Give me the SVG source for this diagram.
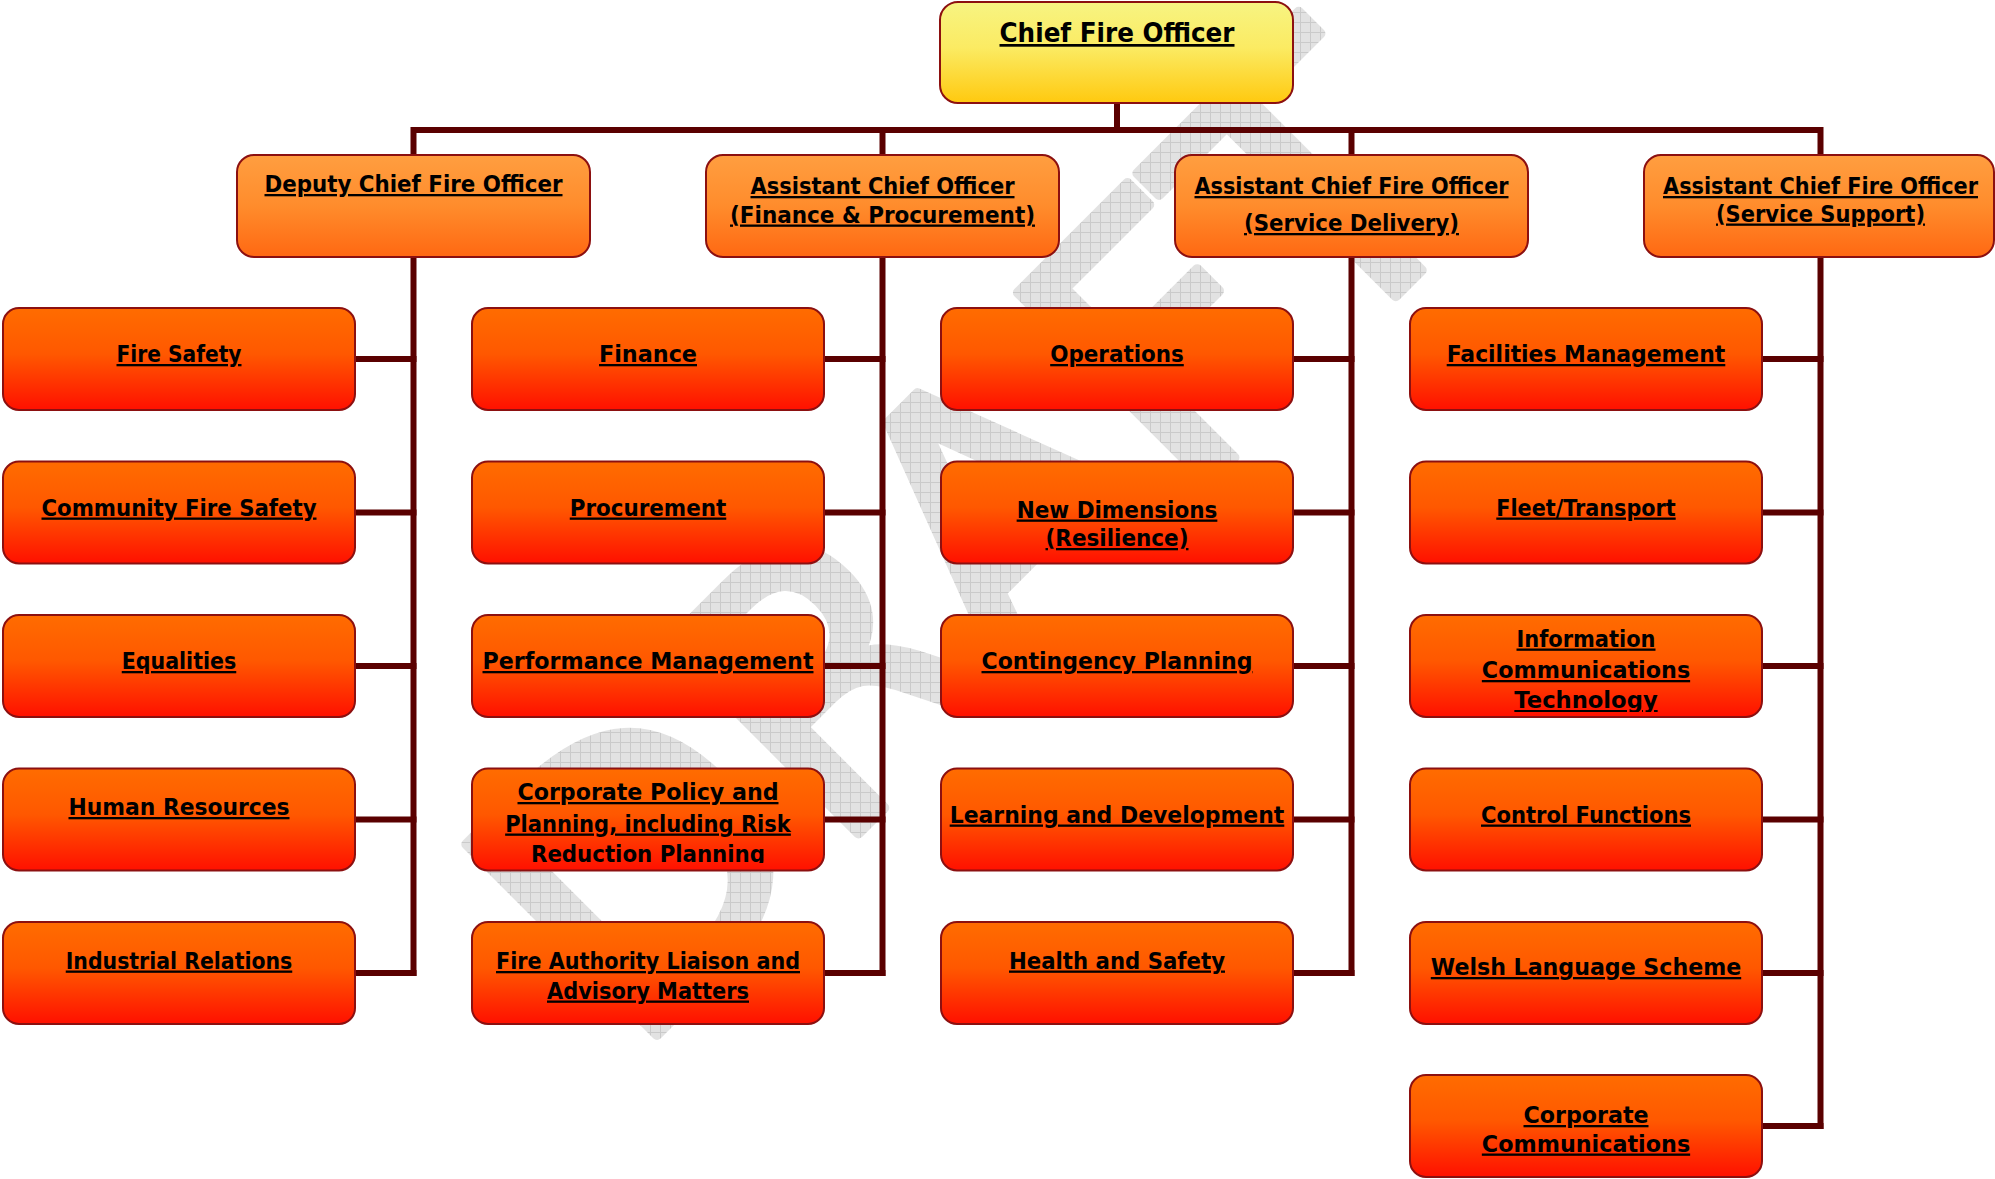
<svg xmlns="http://www.w3.org/2000/svg" width="1995" height="1179" viewBox="0 0 1995 1179">
<style>
.box{stroke:#8c1010;stroke-width:2}
.l1{fill:url(#g1)}
.l2{fill:url(#g2)}
.l3{fill:url(#g3)}
.t{font-family:"DejaVu Sans","Liberation Sans",sans-serif;font-weight:bold;font-size:23px;fill:#000;text-anchor:middle;text-decoration:underline}
.tc{font-size:27px}
.con{fill:none;stroke:#5a0000;stroke-width:6}
.wm{font-family:"DejaVu Sans",sans-serif;font-size:370px;fill:url(#grid);stroke:url(#grid);stroke-width:10;stroke-linejoin:round;text-anchor:middle}
</style>
<defs>
<linearGradient id="g1" x1="0" y1="0" x2="0" y2="1">
<stop offset="0" stop-color="#f7f482"/><stop offset="0.45" stop-color="#fbeb63"/><stop offset="1" stop-color="#ffc90f"/>
</linearGradient>
<linearGradient id="g2" x1="0" y1="0" x2="0" y2="1">
<stop offset="0" stop-color="#ff9e40"/><stop offset="0.5" stop-color="#ff8c2c"/><stop offset="1" stop-color="#ff6812"/>
</linearGradient>
<linearGradient id="g3" x1="0" y1="0" x2="0" y2="1">
<stop offset="0" stop-color="#ff6c00"/><stop offset="0.45" stop-color="#ff5800"/><stop offset="1" stop-color="#ff1000"/>
</linearGradient>
<pattern id="grid" patternUnits="userSpaceOnUse" width="10" height="10" patternTransform="rotate(45)">
<rect width="10" height="10" fill="#e2e2e2"/>
<path d="M0 0.5H10M0.5 0V10" stroke="#cacaca" stroke-width="1"/>
</pattern>
<clipPath id="cpCP"><rect x="472" y="768.5" width="352" height="94.5"/></clipPath>
<clipPath id="cpICT"><rect x="1410" y="615" width="352" height="97"/></clipPath>
</defs>
<rect width="1995" height="1179" fill="#fff"/>
<text class="wm" transform="translate(1060,632) rotate(-45)">DRAFT</text>

<g id="connectors">
<path class="con" d="M1117,103V130"/>
<path class="con" d="M413.5,155V130H1820.5V155"/>
<path class="con" d="M882.5,130V155"/>
<path class="con" d="M1351.5,130V155"/>
<path class="con" d="M413.5,257V976"/>
<path class="con" d="M882.5,257V976"/>
<path class="con" d="M1351.5,257V976"/>
<path class="con" d="M1820.5,257V1129"/>
<path class="con" d="M355,359H416.5M355,512.5H416.5M355,666H416.5M355,819.5H416.5M355,973H416.5"/>
<path class="con" d="M824,359H885.5M824,512.5H885.5M824,666H885.5M824,819.5H885.5M824,973H885.5"/>
<path class="con" d="M1293,359H1354.5M1293,512.5H1354.5M1293,666H1354.5M1293,819.5H1354.5M1293,973H1354.5"/>
<path class="con" d="M1762,359H1823.5M1762,512.5H1823.5M1762,666H1823.5M1762,819.5H1823.5M1762,973H1823.5M1762,1126H1823.5"/>
</g>

<g id="chief"><rect class="box l1" x="940" y="2" width="353" height="101" rx="18"/><text class="t tc" x="1117" y="42" textLength="235" lengthAdjust="spacingAndGlyphs">Chief Fire Officer</text></g>

<g id="dcfo"><rect class="box l2" x="237" y="155" width="353" height="102" rx="17"/><text class="t" x="413.5" y="192" textLength="298" lengthAdjust="spacingAndGlyphs">Deputy Chief Fire Officer</text></g>
<g id="aco-fp"><rect class="box l2" x="706" y="155" width="353" height="102" rx="17"/><text class="t" x="882.5" y="194" textLength="264" lengthAdjust="spacingAndGlyphs">Assistant Chief Officer</text><text class="t" x="882.5" y="222.5" textLength="305" lengthAdjust="spacingAndGlyphs">(Finance &amp; Procurement)</text></g>
<g id="acfo-sd"><rect class="box l2" x="1175" y="155" width="353" height="102" rx="17"/><text class="t" x="1351.5" y="194" textLength="314" lengthAdjust="spacingAndGlyphs">Assistant Chief Fire Officer</text><text class="t" x="1351.5" y="231" textLength="215" lengthAdjust="spacingAndGlyphs">(Service Delivery)</text></g>
<g id="acfo-ss"><rect class="box l2" x="1644" y="155" width="350" height="102" rx="17"/><text class="t" x="1820.5" y="194" textLength="315" lengthAdjust="spacingAndGlyphs">Assistant Chief Fire Officer</text><text class="t" x="1820.5" y="221.5" textLength="209" lengthAdjust="spacingAndGlyphs">(Service Support)</text></g>

<g id="fire-safety"><rect class="box l3" x="3" y="308" width="352" height="102" rx="16"/><text class="t" x="179" y="362" textLength="125" lengthAdjust="spacingAndGlyphs">Fire Safety</text></g>
<g id="community-fire-safety"><rect class="box l3" x="3" y="461.5" width="352" height="102" rx="16"/><text class="t" x="179" y="515.5" textLength="275" lengthAdjust="spacingAndGlyphs">Community Fire Safety</text></g>
<g id="equalities"><rect class="box l3" x="3" y="615" width="352" height="102" rx="16"/><text class="t" x="179" y="669" textLength="114.5" lengthAdjust="spacingAndGlyphs">Equalities</text></g>
<g id="human-resources"><rect class="box l3" x="3" y="768.5" width="352" height="102" rx="16"/><text class="t" x="179" y="815" textLength="221" lengthAdjust="spacingAndGlyphs">Human Resources</text></g>
<g id="industrial-relations"><rect class="box l3" x="3" y="922" width="352" height="102" rx="16"/><text class="t" x="179" y="968.5" textLength="226.5" lengthAdjust="spacingAndGlyphs">Industrial Relations</text></g>

<g id="finance"><rect class="box l3" x="472" y="308" width="352" height="102" rx="16"/><text class="t" x="648" y="362" textLength="98" lengthAdjust="spacingAndGlyphs">Finance</text></g>
<g id="procurement"><rect class="box l3" x="472" y="461.5" width="352" height="102" rx="16"/><text class="t" x="648" y="515.5" textLength="156.5" lengthAdjust="spacingAndGlyphs">Procurement</text></g>
<g id="performance-management"><rect class="box l3" x="472" y="615" width="352" height="102" rx="16"/><text class="t" x="648" y="669" textLength="331" lengthAdjust="spacingAndGlyphs">Performance Management</text></g>
<g id="corporate-policy"><rect class="box l3" x="472" y="768.5" width="352" height="102" rx="16"/><g clip-path="url(#cpCP)"><text class="t" x="648" y="800" textLength="261" lengthAdjust="spacingAndGlyphs">Corporate Policy and</text><text class="t" x="648" y="831.5" textLength="285.7" lengthAdjust="spacingAndGlyphs">Planning, including Risk</text><text class="t" x="648" y="861.5" textLength="234" lengthAdjust="spacingAndGlyphs">Reduction Planning</text></g></g>
<g id="fire-authority-liaison"><rect class="box l3" x="472" y="922" width="352" height="102" rx="16"/><text class="t" x="648" y="969" textLength="304" lengthAdjust="spacingAndGlyphs">Fire Authority Liaison and</text><text class="t" x="648" y="998.5" textLength="202" lengthAdjust="spacingAndGlyphs">Advisory Matters</text></g>

<g id="operations"><rect class="box l3" x="941" y="308" width="352" height="102" rx="16"/><text class="t" x="1117" y="362" textLength="133.6" lengthAdjust="spacingAndGlyphs">Operations</text></g>
<g id="new-dimensions"><rect class="box l3" x="941" y="461.5" width="352" height="102" rx="16"/><text class="t" x="1117" y="517.5" textLength="200.7" lengthAdjust="spacingAndGlyphs">New Dimensions</text><text class="t" x="1117" y="546" textLength="143" lengthAdjust="spacingAndGlyphs">(Resilience)</text></g>
<g id="contingency-planning"><rect class="box l3" x="941" y="615" width="352" height="102" rx="16"/><text class="t" x="1117" y="669" textLength="271" lengthAdjust="spacingAndGlyphs">Contingency Planning</text></g>
<g id="learning-development"><rect class="box l3" x="941" y="768.5" width="352" height="102" rx="16"/><text class="t" x="1117" y="822.5" textLength="334.6" lengthAdjust="spacingAndGlyphs">Learning and Development</text></g>
<g id="health-safety"><rect class="box l3" x="941" y="922" width="352" height="102" rx="16"/><text class="t" x="1117" y="968.5" textLength="216" lengthAdjust="spacingAndGlyphs">Health and Safety</text></g>

<g id="facilities-management"><rect class="box l3" x="1410" y="308" width="352" height="102" rx="16"/><text class="t" x="1586" y="362" textLength="278.6" lengthAdjust="spacingAndGlyphs">Facilities Management</text></g>
<g id="fleet-transport"><rect class="box l3" x="1410" y="461.5" width="352" height="102" rx="16"/><text class="t" x="1586" y="515.5" textLength="179.4" lengthAdjust="spacingAndGlyphs">Fleet/Transport</text></g>
<g id="ict"><rect class="box l3" x="1410" y="615" width="352" height="102" rx="16"/><g clip-path="url(#cpICT)"><text class="t" x="1586" y="646.5" textLength="139" lengthAdjust="spacingAndGlyphs">Information</text><text class="t" x="1586" y="678" textLength="208.3" lengthAdjust="spacingAndGlyphs">Communications</text><text class="t" x="1586" y="708" textLength="143.3" lengthAdjust="spacingAndGlyphs">Technology</text></g></g>
<g id="control-functions"><rect class="box l3" x="1410" y="768.5" width="352" height="102" rx="16"/><text class="t" x="1586" y="822.5" textLength="210" lengthAdjust="spacingAndGlyphs">Control Functions</text></g>
<g id="welsh-language-scheme"><rect class="box l3" x="1410" y="922" width="352" height="102" rx="16"/><text class="t" x="1586" y="975" textLength="310.4" lengthAdjust="spacingAndGlyphs">Welsh Language Scheme</text></g>
<g id="corporate-communications"><rect class="box l3" x="1410" y="1075" width="352" height="102" rx="16"/><text class="t" x="1586" y="1123" textLength="125" lengthAdjust="spacingAndGlyphs">Corporate</text><text class="t" x="1586" y="1151.5" textLength="208.3" lengthAdjust="spacingAndGlyphs">Communications</text></g>
</svg>
